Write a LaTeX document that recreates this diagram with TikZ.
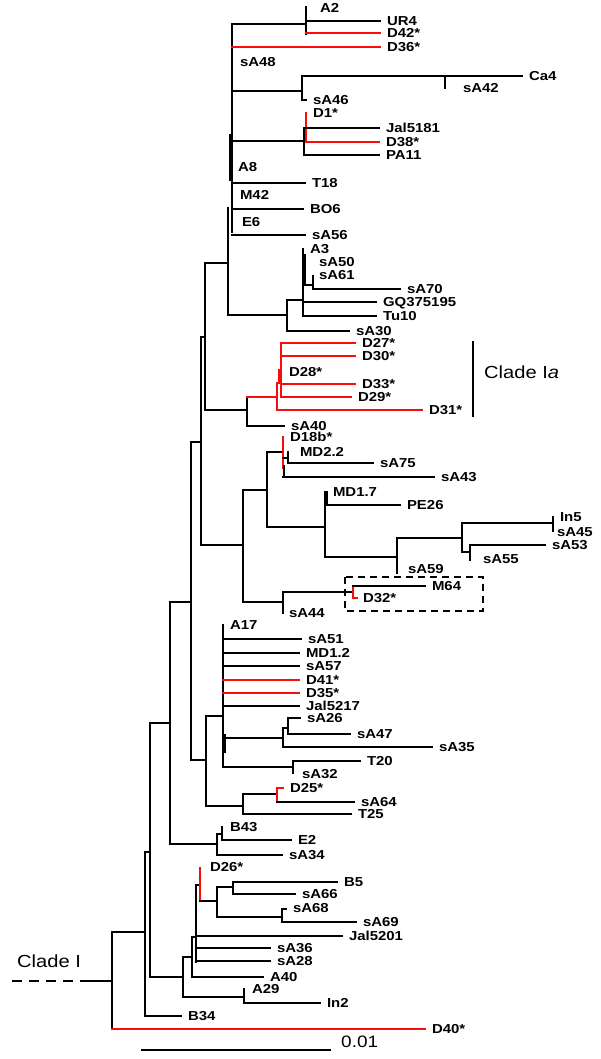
\documentclass[tikz,border=0pt]{standalone}
\usepackage{fontspec}
\setmainfont{Liberation Sans}
\newfontfamily\labfont[FakeStretch=1.15]{Liberation Sans}
\definecolor{treered}{RGB}{250,12,12}
\newcommand\myleaf[6]{\node[lab] (#3) at (#4,#5) {#6};\draw[#1] (#2 |- #3.west) -- (#3.west);}
\newcommand\mynode[4]{\coordinate (#2) at (#4);\draw[#1] (#3 |- #2) -- (#2);}
\newcommand\myvbar[4]{\draw[#1] (#2,#3) -- (#2,#4);}
\newcommand\mytick[4]{\node[tlab] (#1) at (#2,#3) {#4};}
\begin{document}
\begin{tikzpicture}[x=1pt,y=-1pt,
  br/.style={line width=2.2pt,line cap=rect,draw=black},
  rd/.style={line width=2.2pt,line cap=rect,draw=treered},
  lab/.style={font={\labfont\bfseries\fontsize{13}{15}\selectfont},inner sep=0pt,outer xsep=7pt,outer ysep=0pt,anchor=west,text height=9.3pt,text depth=0pt},
  tlab/.style={font={\labfont\bfseries\fontsize{13}{15}\selectfont},inner sep=0pt,outer sep=0pt,anchor=west,text height=9.3pt,text depth=0pt},
  big/.style={font={\labfont\fontsize{17.5}{20}\selectfont},inner sep=0pt,anchor=west}]
\fill[white] (0,0) rectangle (600,1059);
\useasboundingbox (0,0) rectangle (600,1059);
% root
\coordinate (root) at (112,981);
\coordinate (dash0) at (12,981);
\coordinate (dash1) at (88,981);
\draw[br,line cap=butt,dash pattern=on 10pt off 7pt] (dash0) -- (dash1);
\draw[br] (dash1) -- (root);
\node[big] (cladeI) at (17,961) {Clade I};
\myvbar{br}{112}{932}{1029}
\mynode{br}{Q}{root}{145,932}
\myleaf{rd}{root}{lD40}{425}{1029}{D40*}
\myvbar{br}{145}{852}{1016}
\mynode{br}{P}{Q}{150,852}
\myleaf{br}{Q}{lB34}{181}{1016}{B34}
\myvbar{br}{150}{723}{977}
\mynode{br}{n170}{P}{170,723}
\mynode{br}{n183}{P}{183,977}
\myvbar{br}{170}{602}{844}
\mynode{br}{Nc}{n170}{191,602}
\mynode{br}{nB43}{n170}{217,844}
\myvbar{br}{191}{442}{760}
\mynode{br}{Nb}{Nc}{201,442}
\mynode{br}{n206}{Nc}{206,760}
\myvbar{br}{201}{337}{545}
\mynode{br}{Na}{Nb}{205,337}
\mynode{br}{n243}{Nb}{243,545}
\myvbar{br}{205}{263}{410}
\mynode{br}{S}{Na}{228,263}
\mynode{br}{n247}{Na}{247,410}
% spine
\coordinate (sp) at (232,24);
\myvbar{br}{232}{24}{232}
\myvbar{br}{230}{135}{180}
\myvbar{br}{228}{208}{315}
\mynode{br}{nA2}{sp}{306,24}
\myvbar{br}{306}{7}{34}
\mytick{lA2}{320}{8}{A2}
\myleaf{br}{nA2}{lUR4}{380}{21}{UR4}
\myleaf{rd}{nA2}{lD42}{380}{33}{D42*}
\myleaf{rd}{sp}{lD36}{380}{47}{D36*}
\mytick{lsA48}{240}{62}{sA48}
\mynode{br}{nCa}{sp}{302,91}
\myvbar{br}{302}{76}{100}
\draw[br] (302,100) -- (306,100);
\mynode{br}{nCa4}{nCa}{445,76}
\myvbar{br}{445}{76}{88}
\myleaf{br}{nCa4}{lCa4}{522}{76}{Ca4}
\mytick{lsA42}{463}{88}{sA42}
\mytick{lsA46}{313}{100}{sA46}
\mynode{br}{nD1}{sp}{304,141}
\myvbar{br}{304}{128}{155}
\mynode{br}{nY}{nD1}{306,128}
\myvbar{rd}{306}{113}{142}
\mytick{lD1}{313}{113}{D1*}
\myleaf{br}{nY}{lJal5181}{379}{128}{Jal5181}
\myleaf{rd}{nY}{lD38}{379}{142}{D38*}
\myleaf{br}{nD1}{lPA11}{379}{155}{PA11}
\mytick{lA8}{238}{167}{A8}
\myleaf{br}{sp}{lT18}{305}{183}{T18}
\mytick{lM42}{240}{195}{M42}
\myleaf{br}{sp}{lBO6}{303}{209}{BO6}
\mytick{lE6}{242}{222}{E6}
\myleaf{br}{sp}{lsA56}{305}{235}{sA56}
% A3 group
\mynode{br}{nA3g}{S}{287,315}
\myvbar{br}{287}{300}{331}
\mynode{br}{n303}{nA3g}{303,300}
\myvbar{br}{303}{249}{316}
\myvbar{br}{305}{255}{283}
\mytick{lA3}{310}{249}{A3}
\mytick{lsA50}{319}{262}{sA50}
\mynode{br}{n313}{n303}{313,285}
\myvbar{br}{313}{276}{289}
\mytick{lsA61}{319}{275}{sA61}
\myleaf{br}{n313}{lsA70}{400}{289}{sA70}
\myleaf{br}{n303}{lGQ}{376}{302}{GQ375195}
\myleaf{br}{n303}{lTu10}{376}{316}{Tu10}
\myleaf{br}{nA3g}{lsA30}{349}{331}{sA30}
% clade Ia
\myvbar{br}{247}{397}{426}
\myleaf{br}{n247}{lsA40}{284}{426}{sA40}
\mynode{rd}{n277}{n247}{277,397}
\myvbar{rd}{277}{383}{410}
\myleaf{rd}{n277}{lD31}{422}{410}{D31*}
\mynode{rd}{n281}{n277}{281,383}
\myvbar{rd}{281}{343}{397}
\myvbar{rd}{279.5}{370}{383}
\mytick{lD28}{289}{372}{D28*}
\myleaf{rd}{n281}{lD27}{355}{343}{D27*}
\myleaf{rd}{n281}{lD30}{355}{356}{D30*}
\myleaf{rd}{n281}{lD33}{355}{384}{D33*}
\myleaf{rd}{n281}{lD29}{351}{397}{D29*}
\coordinate (ia1) at (473,342);
\coordinate (ia2) at (473,416);
\draw[br,line width=2.4pt] (ia1) -- (ia2);
\node[big] (lIa) at (484,372) {Clade I\textit{a}};
% middle clade
\myvbar{br}{243}{490}{602}
\mynode{br}{n267}{n243}{267,490}
\mynode{br}{n283b}{n243}{283,602}
\myvbar{br}{267}{452}{527}
\mynode{br}{nD18}{n267}{283,452}
\myvbar{rd}{283}{437}{468}
\myvbar{br}{284}{466}{477}
\mytick{lD18b}{290}{437}{D18b*}
\mynode{br}{nMD22}{nD18}{288,458}
\myvbar{br}{288}{452}{463}
\mytick{lMD22}{300}{452}{MD2.2}
\myleaf{br}{nMD22}{lsA75}{373}{463}{sA75}
\myleaf{br}{nD18}{lsA43}{434}{477}{sA43}
\mynode{br}{n325}{n267}{325,527}
\myvbar{br}{325}{492}{557}
\myvbar{br}{327}{492}{505}
\mytick{lMD17}{333}{492}{MD1.7}
\myleaf{br}{n325}{lPE26}{400}{505}{PE26}
\mynode{br}{n397}{n325}{397,557}
\myvbar{br}{397}{538}{573}
\mytick{lsA59}{408}{569}{sA59}
\mynode{br}{n462}{n397}{462,538}
\myvbar{br}{462}{523}{552}
\mynode{br}{n553}{n462}{553,523}
\myvbar{br}{553}{517}{531}
\mytick{lIn5}{560}{517}{In5}
\mytick{lsA45}{557}{532}{sA45}
\mynode{br}{n470}{n462}{470,552}
\myvbar{br}{470}{545}{560}
\myleaf{br}{n470}{lsA53}{545}{545}{sA53}
\mytick{lsA55}{483}{559}{sA55}
\myvbar{br}{283}{592}{613}
\mytick{lsA44}{289}{613}{sA44}
\mynode{br}{n353}{n283b}{353,592}
\myvbar{rd}{353}{586}{598}
\draw[rd] (353,598) -- (357,598);
\myleaf{br}{n353}{lM64}{425}{586}{M64}
\mytick{lD32}{363}{598}{D32*}
\coordinate (bx1) at (345,577);
\coordinate (bx2) at (483,611);
\draw[br,line cap=butt,dash pattern=on 7pt off 5pt] (bx1) rectangle (bx2);
% A17 clade
\myvbar{br}{206}{716}{806}
\mynode{br}{nA17}{n206}{223,716}
\mynode{br}{n243c}{n206}{243,806}
\myvbar{br}{223}{625}{767}
\myvbar{br}{225}{735}{752}
\mytick{lA17}{230}{625}{A17}
\myleaf{br}{nA17}{lsA51}{301}{639}{sA51}
\myleaf{br}{nA17}{lMD12}{299}{653}{MD1.2}
\myleaf{br}{nA17}{lsA57}{299}{666}{sA57}
\myleaf{rd}{nA17}{lD41}{299}{680}{D41*}
\myleaf{rd}{nA17}{lD35}{299}{693}{D35*}
\myleaf{br}{nA17}{lJal5217}{299}{706}{Jal5217}
\mynode{br}{n283c}{nA17}{283,738}
\myvbar{br}{283}{728}{747}
\mynode{br}{n288}{n283c}{288,728}
\myvbar{br}{288}{718}{734}
\myleaf{br}{n288}{lsA26}{300}{718}{sA26}
\myleaf{br}{n288}{lsA47}{350}{734}{sA47}
\myleaf{br}{n283c}{lsA35}{432}{747}{sA35}
\mynode{br}{n293}{nA17}{293,767}
\myvbar{br}{293}{761}{773}
\myleaf{br}{n293}{lT20}{360}{761}{T20}
\mytick{lsA32}{302}{774}{sA32}
\myvbar{br}{243}{794}{814}
\mynode{br}{n277r}{n243c}{277,794}
\myvbar{rd}{277}{788}{802}
\draw[rd] (277,788) -- (283,788);
\mytick{lD25}{290}{788}{D25*}
\myleaf{br}{n277r}{lsA64}{354}{802}{sA64}
\myleaf{br}{n243c}{lT25}{351}{814}{T25}
% B43
\myvbar{br}{217}{834}{855}
\mynode{br}{n222}{nB43}{222,834}
\myvbar{br}{222}{827}{840}
\mytick{lB43}{230}{827}{B43}
\myleaf{br}{n222}{lE2}{291}{840}{E2}
\myleaf{br}{nB43}{lsA34}{282}{855}{sA34}
% bottom clade
\myvbar{br}{183}{957}{997}
\mynode{br}{n192}{n183}{192,957}
\mynode{br}{n244}{n183}{244,997}
\myvbar{br}{192}{937}{977}
\mynode{br}{n196}{n192}{196,937}
\myleaf{br}{n192}{lA40}{263}{977}{A40}
\draw[br,line width=2.8pt] (196,885) -- (196,962);
\mynode{br}{nD26}{n196}{200,885}
\myvbar{rd}{200}{868}{901}
\mytick{lD26}{210}{867}{D26*}
\mynode{br}{n217d}{nD26}{217,901}
\myvbar{br}{217}{887}{917}
\mynode{br}{n233}{n217d}{233,887}
\myvbar{br}{233}{882}{894}
\myleaf{br}{n233}{lB5}{337}{882}{B5}
\myleaf{br}{n233}{lsA66}{295}{894}{sA66}
\mynode{br}{n282}{n217d}{282,917}
\myvbar{br}{282}{909}{922}
\draw[br] (282,909) -- (286,909);
\mytick{lsA68}{293}{908}{sA68}
\myleaf{br}{n282}{lsA69}{356}{922}{sA69}
\myleaf{br}{n196}{lJal5201}{342}{936}{Jal5201}
\myleaf{br}{n196}{lsA36}{270}{948}{sA36}
\myleaf{br}{n196}{lsA28}{270}{961}{sA28}
\myvbar{br}{244}{989}{1003}
\mytick{lA29}{252}{989}{A29}
\myleaf{br}{n244}{lIn2}{320}{1003}{In2}
% scale bar
\coordinate (sb1) at (142,1050);
\coordinate (sb2) at (330,1050);
\draw[br] (sb1) -- (sb2);
\node[big,font={\labfont\fontsize{16.5}{18}\selectfont}] (l001) at (341,1042) {0.01};
\end{tikzpicture}
\end{document}
